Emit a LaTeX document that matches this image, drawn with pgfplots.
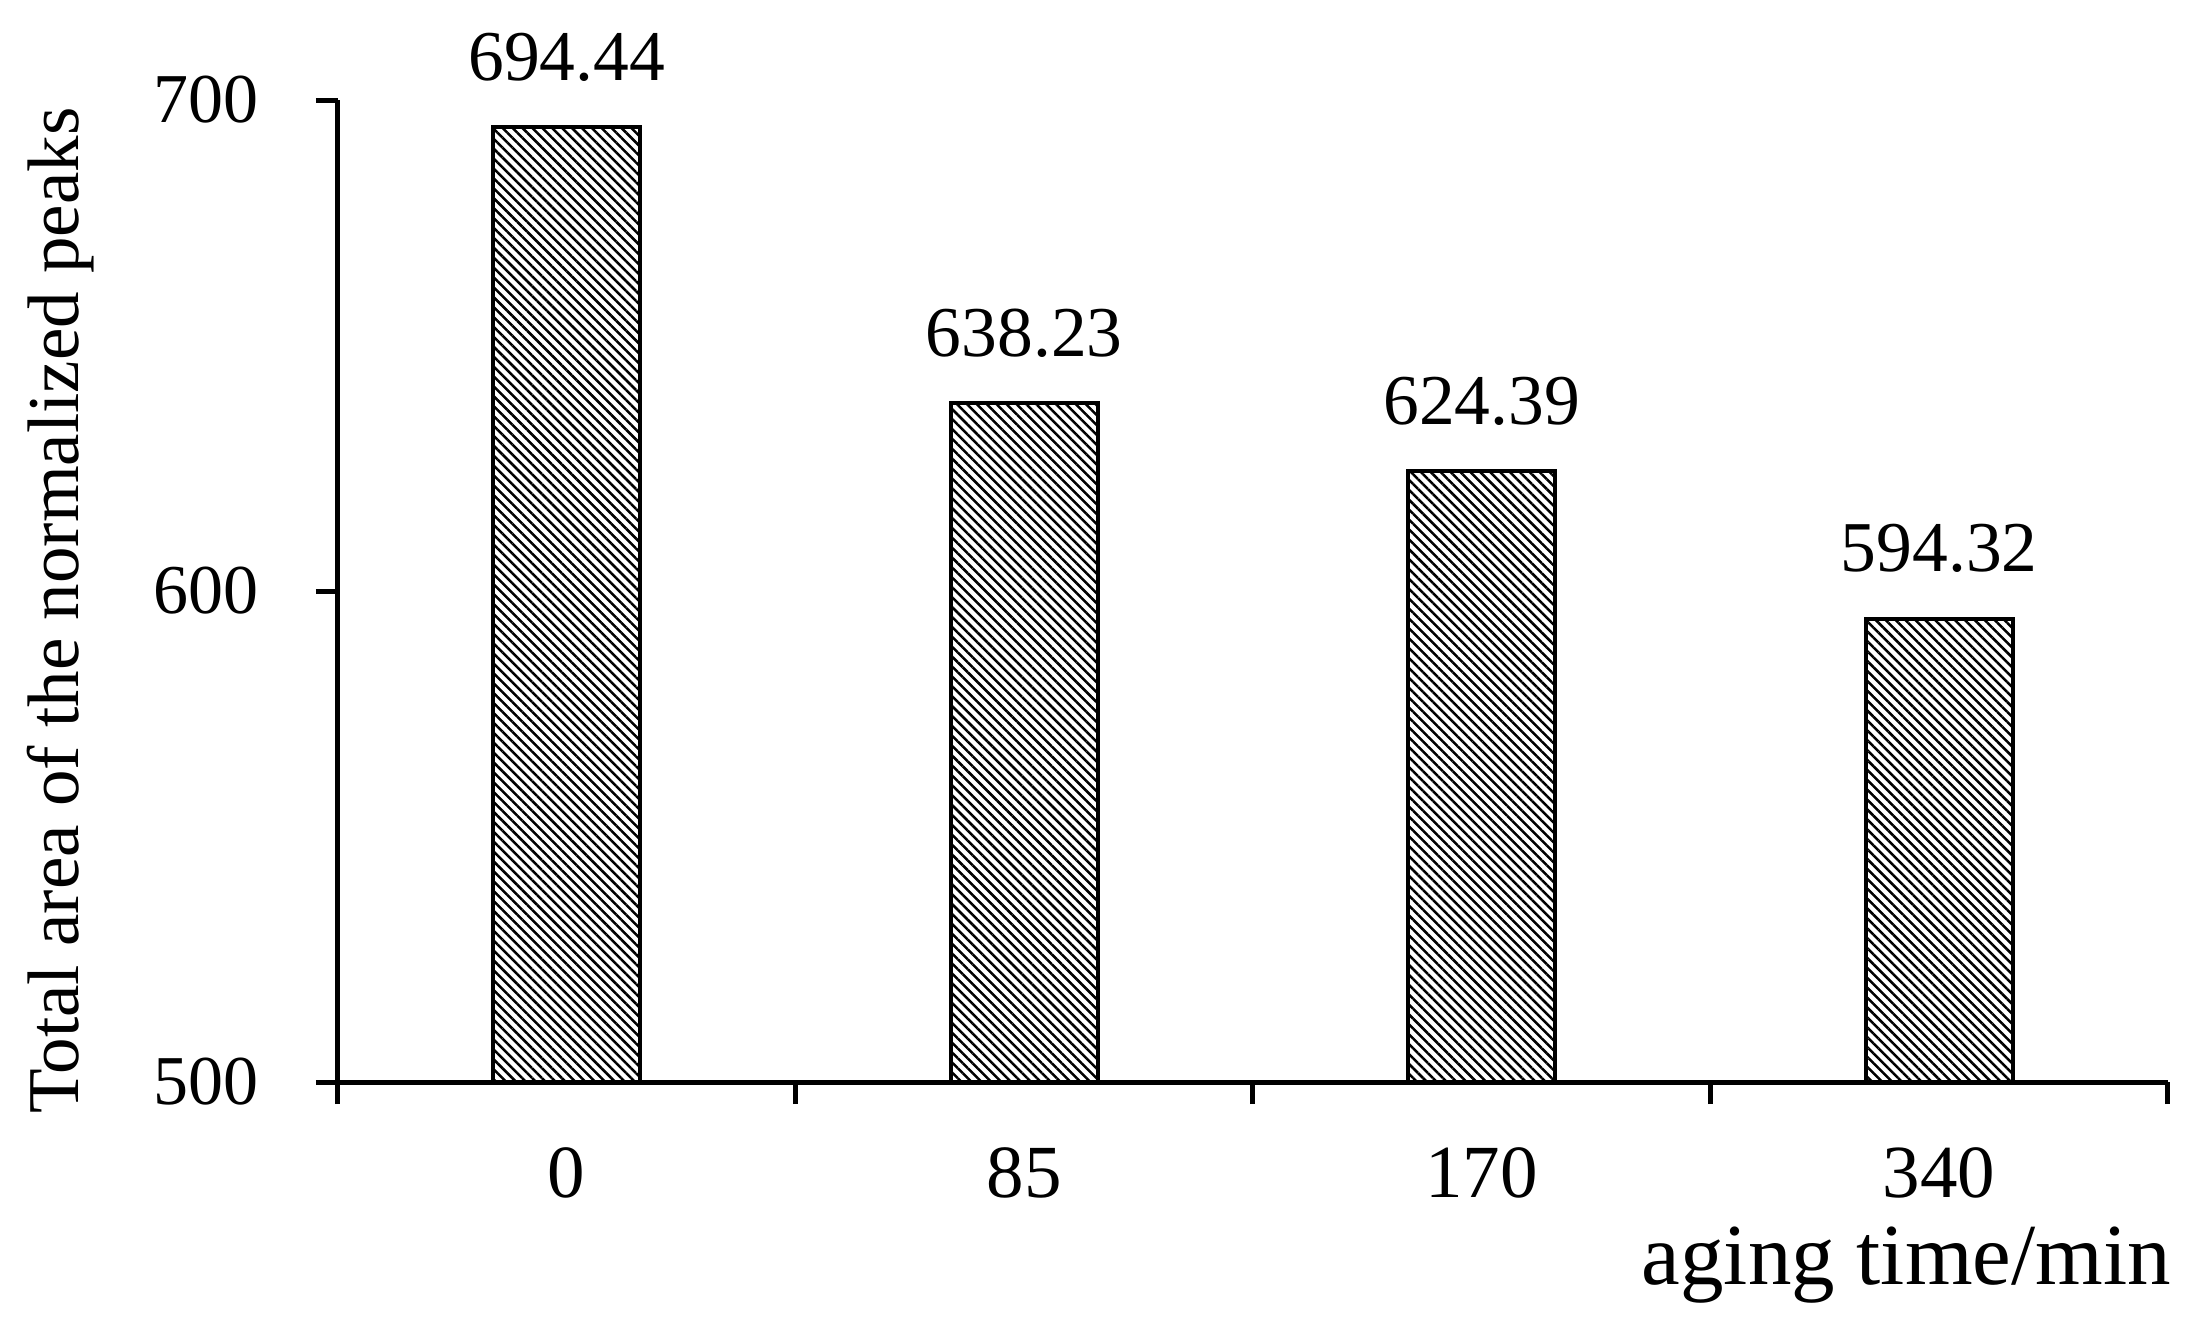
\documentclass[border=0pt]{standalone}
\usepackage{pgfplots}
\pgfplotsset{compat=1.18}
\usepackage{fontspec}
\setmainfont{Liberation Serif}
\usetikzlibrary{patterns.meta}

\begin{document}
\begin{tikzpicture}
\useasboundingbox (-67.6pt,-49.2pt) rectangle (372.4pt,216.4pt);
\begin{axis}[
  at={(0,0)}, anchor=south west,
  scale only axis,
  width=366pt, height=196.4pt,
  xmin=-0.5, xmax=3.5, ymin=500, ymax=700,
  clip=false,
  axis x line=bottom, axis y line=left,
  axis line style={-, line width=1pt, black},
  every tick/.style={black, line width=1pt},
  major tick length=4.4pt,
  tick align=outside,
  xtick={-0.5,0.5,1.5,2.5,3.5},
  xticklabels={0,85,170,340,{}},
  ytick={500,600,700},
  /pgf/number format/assume math mode=true,
  xticklabel style={font=\fontsize{15}{17}\selectfont, anchor=base, xshift=45.75pt, yshift=-18.6pt},
  yticklabel style={font=\fontsize{14}{16}\selectfont, anchor=east, xshift=-7.9pt},
  xlabel={aging time/min},
  xlabel style={font=\fontsize{17.4}{20}\selectfont, at={(axis description cs:1.0022,-0.2067)}, anchor=base east, inner sep=0pt},
  ylabel={Total area of the normalized peaks},
  ylabel style={font=\fontsize{14.6}{17}\selectfont, at={(axis description cs:-0.1514,0.48)}, anchor=center, inner sep=0pt},
]
\addplot[ybar, bar width=29.4pt, draw=black, line width=0.8pt,
  pattern={Lines[angle=-45,distance=1.4pt,line width=0.5pt]},
  point meta=explicit symbolic,
  nodes near coords,
  every node near coord/.append style={font=\fontsize{14.3}{16}\selectfont, anchor=base, yshift=9.4pt, inner sep=0pt}]
coordinates {(0,694.44) [694.44] (1,638.23) [638.23] (2,624.39) [624.39] (3,594.32) [594.32]};
\end{axis}
\end{tikzpicture}
\end{document}
